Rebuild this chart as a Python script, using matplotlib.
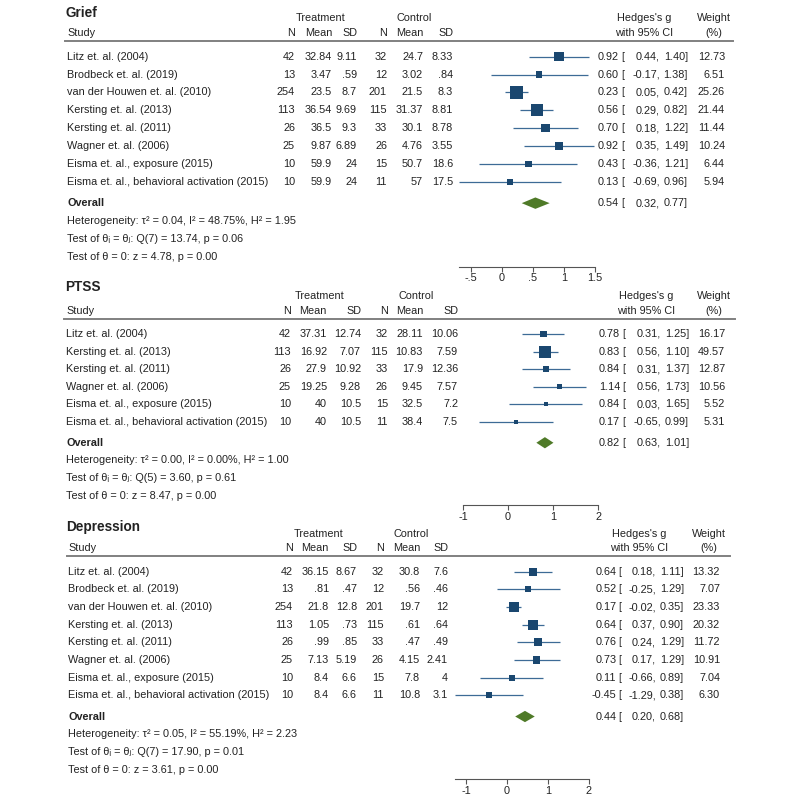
import numpy as np
import matplotlib.pyplot as plt
from matplotlib import transforms

plt.rcParams['font.family'] = ['Liberation Sans', 'DejaVu Sans']

# ---- Grief ----
grief_studies = ["Litz et. al. (2004)", "Brodbeck et. al. (2019)", "van der Houwen et. al. (2010)",
                 "Kersting et. al. (2013)", "Kersting et. al. (2011)", "Wagner et. al. (2006)",
                 "Eisma et. al., exposure (2015)", "Eisma et. al., behavioral activation (2015)"]
grief_t_n = [42, 13, 254, 113, 26, 25, 10, 10]
grief_t_mean = [32.84, 3.47, 23.5, 36.54, 36.5, 9.87, 59.9, 59.9]
grief_t_sd = [9.11, 0.59, 8.7, 9.69, 9.3, 6.89, 24, 24]
grief_c_n = [32, 12, 201, 115, 33, 26, 15, 11]
grief_c_mean = [24.7, 3.02, 21.5, 31.37, 30.1, 4.76, 50.7, 57]
grief_c_sd = [8.33, 0.84, 8.3, 8.81, 8.78, 3.55, 18.6, 17.5]
grief_g = [0.92, 0.60, 0.23, 0.56, 0.70, 0.92, 0.43, 0.13]
grief_lo = [0.44, -0.17, 0.05, 0.29, 0.18, 0.35, -0.36, -0.69]
grief_hi = [1.40, 1.38, 0.42, 0.82, 1.22, 1.49, 1.21, 0.96]
grief_w = [12.73, 6.51, 25.26, 21.44, 11.44, 10.24, 6.44, 5.94]
grief_overall = [0.54, 0.32, 0.77]
grief_het = "Heterogeneity: τ² = 0.04, I² = 48.75%, H² = 1.95"
grief_q = "Test of θᵢ = θⱼ: Q(7) = 13.74, p = 0.06"
grief_z = "Test of θ = 0: z = 4.78, p = 0.00"
grief_ticks = [-0.5, 0, 0.5, 1, 1.5]

# ---- PTSS ----
ptss_studies = ["Litz et. al. (2004)", "Kersting et. al. (2013)", "Kersting et. al. (2011)",
                "Wagner et. al. (2006)", "Eisma et. al., exposure (2015)",
                "Eisma et. al., behavioral activation (2015)"]
ptss_t_n = [42, 113, 26, 25, 10, 10]
ptss_t_mean = [37.31, 16.92, 27.9, 19.25, 40, 40]
ptss_t_sd = [12.74, 7.07, 10.92, 9.28, 10.5, 10.5]
ptss_c_n = [32, 115, 33, 26, 15, 11]
ptss_c_mean = [28.11, 10.83, 17.9, 9.45, 32.5, 38.4]
ptss_c_sd = [10.06, 7.59, 12.36, 7.57, 7.2, 7.5]
ptss_g = [0.78, 0.83, 0.84, 1.14, 0.84, 0.17]
ptss_lo = [0.31, 0.56, 0.31, 0.56, 0.03, -0.65]
ptss_hi = [1.25, 1.10, 1.37, 1.73, 1.65, 0.99]
ptss_w = [16.17, 49.57, 12.87, 10.56, 5.52, 5.31]
ptss_overall = [0.82, 0.63, 1.01]
ptss_het = "Heterogeneity: τ² = 0.00, I² = 0.00%, H² = 1.00"
ptss_q = "Test of θᵢ = θⱼ: Q(5) = 3.60, p = 0.61"
ptss_z = "Test of θ = 0: z = 8.47, p = 0.00"
ptss_ticks = [-1, 0, 1, 2]

# ---- Depression ----
dep_studies = grief_studies
dep_t_n = [42, 13, 254, 113, 26, 25, 10, 10]
dep_t_mean = [36.15, 0.81, 21.8, 1.05, 0.99, 7.13, 8.4, 8.4]
dep_t_sd = [8.67, 0.47, 12.8, 0.73, 0.85, 5.19, 6.6, 6.6]
dep_c_n = [32, 12, 201, 115, 33, 26, 15, 11]
dep_c_mean = [30.8, 0.56, 19.7, 0.61, 0.47, 4.15, 7.8, 10.8]
dep_c_sd = [7.6, 0.46, 12, 0.64, 0.49, 2.41, 4, 3.1]
dep_g = [0.64, 0.52, 0.17, 0.64, 0.76, 0.73, 0.11, -0.45]
dep_lo = [0.18, -0.25, -0.02, 0.37, 0.24, 0.17, -0.66, -1.29]
dep_hi = [1.11, 1.29, 0.35, 0.90, 1.29, 1.29, 0.89, 0.38]
dep_w = [13.32, 7.07, 23.33, 20.32, 11.72, 10.91, 7.04, 6.30]
dep_overall = [0.44, 0.20, 0.68]
dep_het = "Heterogeneity: τ² = 0.05, I² = 55.19%, H² = 2.23"
dep_q = "Test of θᵢ = θⱼ: Q(7) = 17.90, p = 0.01"
dep_z = "Test of θ = 0: z = 3.61, p = 0.00"
dep_ticks = [-1, 0, 1, 2]

navy = "#1a476f"
ci_blue = "#3d6b96"
green = "#4f7a28"
W, H = 800, 795
FS = 7.8

fig = plt.figure(figsize=(8, 7.95), dpi=100)


def fmt_num(v):
    s = f"{v:g}"
    if s.startswith("0."):
        s = s[1:]
    elif s.startswith("-0."):
        s = "-" + s[2:]
    return s


def panel(title, studies, cols, g, lo, hi, w, overall, stats, ticks, lay):
    n = len(studies)
    x0 = min(min(lo), ticks[0])
    x1 = max(max(hi), ticks[-1])
    y_first, dy = lay["y_first"], lay["dy"]
    top_row, bot_row = -3.0, n + 3.75
    top_px = y_first + top_row * dy
    bot_px = y_first + bot_row * dy
    ax = fig.add_axes([lay["ax_l"] / W, 1 - bot_px / H,
                       (lay["ax_r"] - lay["ax_l"]) / W, (bot_px - top_px) / H])
    ax.set_xlim(x0, x1)
    ax.set_ylim(bot_row, top_row)
    ax.patch.set_visible(False)
    trans = transforms.blended_transform_factory(fig.transFigure, ax.transData)

    def put(px, row, s, ha="right", **kw):
        kw.setdefault("fontsize", FS)
        ax.text(px / W, row, s, transform=trans, ha=ha, va="center",
                color="#222222", **kw)

    rows = np.arange(n)

    # headers
    put(lay["title_x"], lay["title_row"], title, ha="left", fontsize=9.8, fontweight="bold")
    put(lay["treat_c"], -2.15, "Treatment", ha="center")
    put(lay["ctrl_c"], -2.15, "Control", ha="center")
    put(lay["study_x"], -1.33, "Study", ha="left")
    for px, lab in zip(lay["cols"], ["N", "Mean", "SD", "N", "Mean", "SD"]):
        put(px, -1.33, lab)
    put(lay["hedges_c"], -2.15, "Hedges's g", ha="center")
    put(lay["hedges_c"], -1.33, "with 95% CI", ha="center")
    put(lay["weight_c"], -2.15, "Weight", ha="center")
    put(lay["weight_c"], -1.33, "(%)", ha="center")
    ax.plot([lay["line"][0] / W, lay["line"][1] / W], [-0.87, -0.87], transform=trans,
            color="#808080", lw=1.4, clip_on=False)

    # table rows
    for i in rows:
        put(lay["study_x"], i, studies[i], ha="left")
        for px, col in zip(lay["cols"], cols):
            put(px, i, fmt_num(col[i]))
        put(lay["eff_x"], i, f"{g[i]:.2f}")
        put(lay["brk_x"], i, "[", ha="left")
        put(lay["lo_x"], i, f"{lo[i]:.2f},")
        put(lay["hi_x"], i, f"{hi[i]:.2f}]")
        put(lay["w_x"], i, f"{w[i]:.2f}")

    # forest marks
    ax.hlines(rows, lo, hi, color=ci_blue, lw=0.9, zorder=2)
    ax.scatter(g, rows, s=lay["sq"] * np.array(w), marker="s", color=navy,
               linewidths=0, zorder=3, clip_on=False)

    # overall
    yo = n + 0.2
    og, olo, ohi = overall
    ax.fill([olo, og, ohi, og], [yo, yo - 0.32, yo, yo + 0.32], color=green, lw=0, zorder=3)
    put(lay["study_x"], yo, "Overall", ha="left", fontweight="bold")
    put(lay["eff_x"], yo, f"{og:.2f}")
    put(lay["brk_x"], yo, "[", ha="left")
    put(lay["lo_x"], yo, f"{olo:.2f},")
    put(lay["hi_x"], yo, f"{ohi:.2f}]")
    for r, s in zip([n + 1.2, n + 2.22, n + 3.21], stats):
        put(lay["study_x"], r, s, ha="left")

    # axis
    for side in ["top", "left", "right"]:
        ax.spines[side].set_visible(False)
    ax.spines["bottom"].set_color("#555555")
    ax.spines["bottom"].set_linewidth(0.8)
    ax.set_yticks([])
    ax.set_xticks(ticks)
    ax.set_xticklabels([fmt_num(t) for t in ticks])
    ax.tick_params(axis="x", length=3.5, width=0.8, color="#555555",
                   labelsize=FS, pad=1.5, labelcolor="#222222")
    return ax


grief_layout = dict(y_first=56.7, dy=17.86, ax_l=459, ax_r=595, study_x=67, title_x=66,
                    title_row=-2.45,
                    cols=[295, 332, 357, 387, 423, 453], treat_c=321, ctrl_c=414,
                    line=(65, 733), eff_x=619, brk_x=621.5, lo_x=660, hi_x=688, w_x=725,
                    hedges_c=644, weight_c=714, sq=3.37)
ptss_layout = dict(y_first=334, dy=17.54, ax_l=463, ax_r=598, study_x=66.5, title_x=65,
                   title_row=-2.7,
                   cols=[291, 327, 361, 388, 423, 458], treat_c=320, ctrl_c=416,
                   line=(64, 735), eff_x=620, brk_x=622.5, lo_x=661, hi_x=689, w_x=725,
                   hedges_c=646, weight_c=714, sq=1.5)
dep_layout = dict(y_first=571.7, dy=17.66, ax_l=454.5, ax_r=588.5, study_x=68.3, title_x=66,
                  title_row=-2.55,
                  cols=[293, 329, 357, 384, 420, 448], treat_c=319, ctrl_c=411,
                  line=(66.7, 730), eff_x=616.5, brk_x=618, lo_x=656, hi_x=684, w_x=720,
                  hedges_c=639, weight_c=709, sq=2.62)

panel("Grief", grief_studies,
      [grief_t_n, grief_t_mean, grief_t_sd, grief_c_n, grief_c_mean, grief_c_sd],
      grief_g, grief_lo, grief_hi, grief_w, grief_overall,
      [grief_het, grief_q, grief_z], grief_ticks, grief_layout)
panel("PTSS", ptss_studies,
      [ptss_t_n, ptss_t_mean, ptss_t_sd, ptss_c_n, ptss_c_mean, ptss_c_sd],
      ptss_g, ptss_lo, ptss_hi, ptss_w, ptss_overall,
      [ptss_het, ptss_q, ptss_z], ptss_ticks, ptss_layout)
panel("Depression", dep_studies,
      [dep_t_n, dep_t_mean, dep_t_sd, dep_c_n, dep_c_mean, dep_c_sd],
      dep_g, dep_lo, dep_hi, dep_w, dep_overall,
      [dep_het, dep_q, dep_z], dep_ticks, dep_layout)

fig.savefig("out.png", dpi=100)
